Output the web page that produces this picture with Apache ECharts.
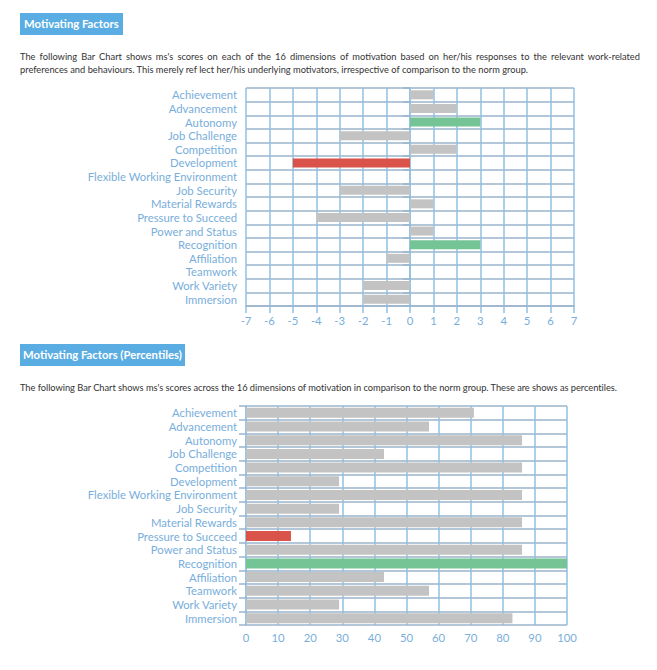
<!DOCTYPE html>
<html><head><meta charset="utf-8">
<script src="https://cdn.jsdelivr.net/npm/echarts@6/dist/echarts.min.js"></script>
<style>
html,body{margin:0;padding:0;background:#fff;}
#wrap{position:relative;width:657px;height:670px;overflow:hidden;font-family:Lato,'Open Sans',sans-serif;}
#chart{position:absolute;left:0;top:0;width:657px;height:670px;}
.hdr{position:absolute;left:20px;height:22px;background:#5aade2;color:#fff;font-weight:bold;font-size:11.3px;line-height:22px;padding:0 4px;z-index:2;}
.p{position:absolute;left:20px;color:#333;font-size:9.3px;line-height:13px;white-space:nowrap;z-index:2;}
.just{width:620px;white-space:normal;text-align:justify;text-align-last:justify;}
</style></head>
<body><div id="wrap">
<div id="chart"></div>
<div class="hdr" style="top:13px;">Motivating Factors</div>
<div class="p just" style="top:50px;">The following Bar Chart shows ms's scores on each of the 16 dimensions of motivation based on her/his responses to the relevant work-related</div>
<div class="p" style="top:63px;">preferences and behaviours. This merely ref lect her/his underlying motivators, irrespective of comparison to the norm group.</div>
<div class="hdr" style="top:344px;padding:0 3px;">Motivating Factors (Percentiles)</div>
<div class="p" style="top:381px;letter-spacing:-0.04px;">The following Bar Chart shows ms's scores across the 16 dimensions of motivation in comparison to the norm group. These are shows as percentiles.</div>
</div>
<script>
const categories = ['Achievement','Advancement','Autonomy','Job Challenge','Competition','Development','Flexible Working Environment','Job Security','Material Rewards','Pressure to Succeed','Power and Status','Recognition','Affiliation','Teamwork','Work Variety','Immersion'];
const scores = [1, 2, 3, -3, 2, -5, 0, -3, 1, -4, 1, 3, -1, 0, -2, -2];
const percentiles = [71, 57, 86, 43, 86, 29, 86, 29, 86, 14, 86, 100, 43, 57, 29, 83];
const scoreTicks = {min: -7, max: 7, interval: 1};
const percentileTicks = {min: 0, max: 100, interval: 10};

const GRAY = '#c3c3c3', RED = '#d9534a', GREEN = '#74c496';
const VLINE = '#8fc0e3', HLINE = '#9ab5cb', LABEL = '#78aedb';

function colorFor(arr) {
  const mx = Math.max(...arr), mn = Math.min(...arr);
  return p => p.value === mx ? GREEN : (p.value === mn ? RED : GRAY);
}

const chart = echarts.init(document.getElementById('chart'), null, {renderer: 'svg'});
const lbl = {color: LABEL, fontSize: 11.3, fontFamily: 'Lato'};

chart.setOption({
  animation: false,
  grid: [
    {left: 246, top: 88, width: 328, height: 218},
    {left: 246, top: 406, width: 321, height: 219}
  ],
  xAxis: [
    {gridIndex: 0, type: 'value', min: scoreTicks.min, max: scoreTicks.max, interval: scoreTicks.interval,
     axisLine: {show: true, lineStyle: {color: HLINE, width: 1.5}},
     axisTick: {show: true, length: 7, lineStyle: {color: VLINE, width: 1.5}},
     splitLine: {show: true, lineStyle: {color: VLINE, width: 1.5}},
     axisLabel: Object.assign({margin: 9}, lbl)},
    {gridIndex: 1, type: 'value', min: percentileTicks.min, max: percentileTicks.max, interval: percentileTicks.interval,
     axisLine: {show: false},
     axisTick: {show: false},
     splitLine: {show: true, lineStyle: {color: VLINE, width: 1.5}},
     axisLabel: Object.assign({margin: 7}, lbl)}
  ],
  yAxis: [
    {gridIndex: 0, type: 'category', inverse: true, data: categories,
     axisLine: {show: true, lineStyle: {color: VLINE, width: 1.5}},
     axisTick: {show: true, length: 7, lineStyle: {color: HLINE, width: 1.5}},
     splitLine: {show: true, lineStyle: {color: HLINE, width: 1.5}},
     axisLabel: Object.assign({margin: 9, interval: 0}, lbl)},
    {gridIndex: 1, type: 'category', inverse: true, data: categories,
     axisLine: {show: true, lineStyle: {color: VLINE, width: 1.5}},
     axisTick: {show: true, length: 7, lineStyle: {color: HLINE, width: 1.5}},
     splitLine: {show: true, lineStyle: {color: HLINE, width: 1.5}},
     axisLabel: Object.assign({margin: 9, interval: 0}, lbl)}
  ],
  series: [
    {type: 'bar', xAxisIndex: 0, yAxisIndex: 0, data: scores, barWidth: 9,
     itemStyle: {color: colorFor(scores)}},
    {type: 'bar', xAxisIndex: 1, yAxisIndex: 1, data: percentiles, barWidth: 10,
     itemStyle: {color: colorFor(percentiles)}}
  ]
});
</script>
</body></html>
